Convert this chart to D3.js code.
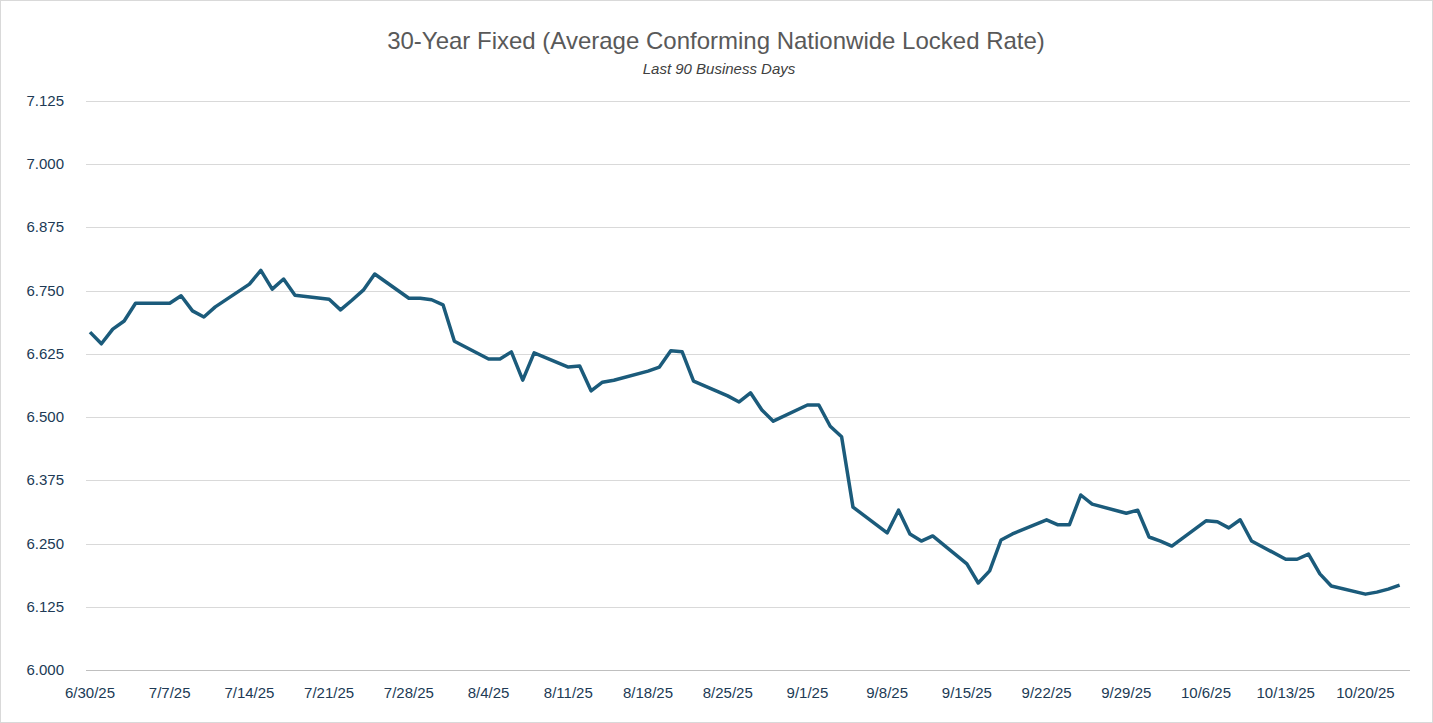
<!DOCTYPE html>
<html><head><meta charset="utf-8">
<script src="https://cdn.jsdelivr.net/npm/d3@7"></script>
<style>body{margin:0;background:#fff;font-family:"Liberation Sans",Arial,sans-serif}</style>
</head><body><div id="chart"></div>
<script>
var W = 1433, H = 723;
var raw = [
["6/30",6.668],["7/1",6.645],["7/2",6.674],["7/3",6.690],["7/4",6.725],["7/7",6.725],["7/8",6.740],["7/9",6.710],["7/10",6.698],["7/11",6.718],
["7/14",6.763],["7/15",6.790],["7/16",6.753],["7/17",6.773],["7/18",6.741],["7/21",6.733],["7/22",6.712],["7/23",6.731],["7/24",6.751],["7/25",6.783],
["7/28",6.735],["7/29",6.735],["7/30",6.732],["7/31",6.722],["8/1",6.650],["8/4",6.615],["8/5",6.615],["8/6",6.629],["8/7",6.573],["8/8",6.627],
["8/11",6.599],["8/12",6.601],["8/13",6.552],["8/14",6.569],["8/15",6.573],["8/18",6.591],["8/19",6.599],["8/20",6.631],["8/21",6.629],["8/22",6.571],
["8/25",6.542],["8/26",6.530],["8/27",6.548],["8/28",6.514],["8/29",6.492],["9/1",6.524],["9/2",6.524],["9/3",6.482],["9/4",6.461],["9/5",6.322],
["9/8",6.271],["9/9",6.316],["9/10",6.269],["9/11",6.255],["9/12",6.265],["9/15",6.210],["9/16",6.172],["9/17",6.196],["9/18",6.257],["9/19",6.269],
["9/22",6.297],["9/23",6.287],["9/24",6.287],["9/25",6.346],["9/26",6.328],["9/29",6.310],["9/30",6.316],["10/1",6.263],["10/2",6.255],["10/3",6.245],
["10/6",6.295],["10/7",6.293],["10/8",6.281],["10/9",6.297],["10/10",6.255],["10/13",6.219],["10/14",6.219],["10/15",6.229],["10/16",6.190],["10/17",6.166],
["10/20",6.150],["10/21",6.154],["10/22",6.160],["10/23",6.168]
];
var parse = d3.timeParse("%m/%d/%Y");
var data = raw.map(function(d){ return {date: parse(d[0]+"/2025"), value: d[1]}; });

var svg = d3.select("#chart").append("svg").attr("width",W).attr("height",H);
svg.append("rect").attr("x",0.5).attr("y",0.5).attr("width",W-1).attr("height",H-1)
  .attr("fill","#fff").attr("stroke","#d9d9d9");

var x = d3.scaleTime().domain([parse("6/30/2025"), parse("10/24/2025")]).range([90,1411]);
var y = d3.scaleLinear().domain([6,7.125]).range([670,101]);

var ticks = d3.range(0,7.126-6,0.125).map(function(v){return 6+v;});
svg.selectAll(".grid").data(ticks).enter().append("line")
  .attr("x1",86).attr("x2",1410)
  .attr("y1",function(d){return Math.round(y(d))+0.5;})
  .attr("y2",function(d){return Math.round(y(d))+0.5;})
  .attr("stroke",function(d){return d==6?"#bfbfbf":"#d9d9d9";}).attr("stroke-width",1);

svg.selectAll(".ylab").data(ticks).enter().append("text")
  .attr("x",64).attr("y",function(d){return y(d)+5;})
  .attr("text-anchor","end").attr("font-size",15).attr("fill","#203a55")
  .text(function(d){return d.toFixed(3);});

var xt = d3.timeDay.every(7).range(parse("6/30/2025"), parse("10/21/2025"));
xt = d3.range(0,17).map(function(i){return d3.timeDay.offset(parse("6/30/2025"), i*7);});
var fmt = function(d){return (d.getMonth()+1)+"/"+d.getDate()+"/25";};
svg.selectAll(".xlab").data(xt).enter().append("text")
  .attr("x",function(d){return x(d);}).attr("y",698)
  .attr("text-anchor","middle").attr("font-size",15).attr("fill","#203a55")
  .text(fmt);

var line = d3.line().x(function(d){return x(d.date);}).y(function(d){return y(d.value);});
svg.append("path").datum(data).attr("d",line)
  .attr("fill","none").attr("stroke","#1b5b7b").attr("stroke-width",3.5)
  .attr("stroke-linejoin","round");

svg.append("text").attr("x",716).attr("y",49).attr("text-anchor","middle")
  .attr("font-size",24).attr("fill","#595959")
  .text("30-Year Fixed (Average Conforming Nationwide Locked Rate)");
svg.append("text").attr("x",719).attr("y",74).attr("text-anchor","middle")
  .attr("font-size",15).attr("font-style","italic").attr("fill","#404040")
  .text("Last 90 Business Days");
</script></body></html>
